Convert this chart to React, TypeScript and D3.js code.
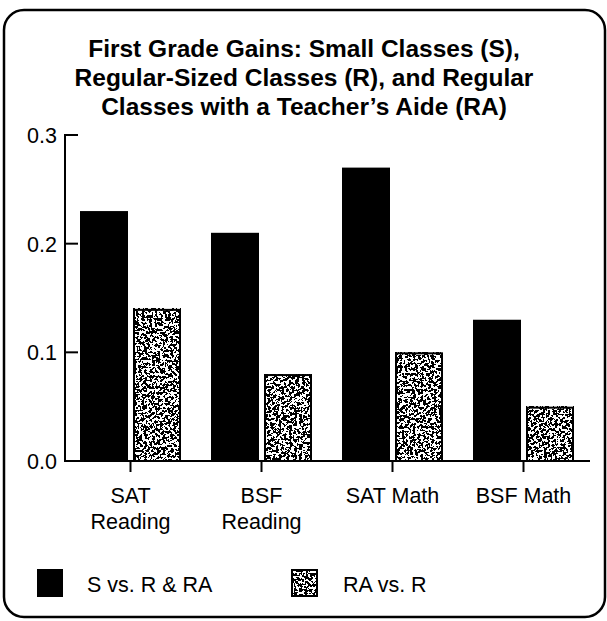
import React from "react";
import * as d3 from "d3";

const categories = [["SAT", "Reading"], ["BSF", "Reading"], ["SAT Math"], ["BSF Math"]];
const sVsRRA = [0.23, 0.21, 0.27, 0.13];
const raVsR = [0.14, 0.08, 0.1, 0.05];
const yTicks = [0, 0.1, 0.2, 0.3];
const titleLines = [
  "First Grade Gains: Small Classes (S),",
  "Regular-Sized Classes (R), and Regular",
  "Classes with a Teacher\u2019s Aide (RA)",
];
const legendLabels = ["S vs. R & RA", "RA vs. R"];

const W = 607;
const H = 621;
const FONT = "'Liberation Sans', Arial, Helvetica, sans-serif";
const LABEL = 21.5;

export default function App() {
  const x = d3.scaleBand<number>().domain(d3.range(categories.length)).range([65, 589]);
  const y = d3.scaleLinear().domain([0, 0.3]).range([461, 135]);
  const barW = 48;
  const gap = 5;

  return (
    <svg
      width={W}
      height={H}
      style={{ position: "absolute", left: 0, top: 0, display: "block", background: "#fff" }}
      fontFamily={FONT}
    >
      <defs>
        <filter id="stipple" x="0" y="0" width="1" height="1" colorInterpolationFilters="sRGB">
          <feTurbulence type="fractalNoise" baseFrequency="0.38" numOctaves="4" seed="11" result="t" />
          <feColorMatrix
            in="t"
            type="matrix"
            values="0 0 0 0 0  0 0 0 0 0  0 0 0 0 0  1.9 0 0 0 -0.45"
            result="a"
          />
          <feComponentTransfer in="a" result="b">
            <feFuncA type="discrete" tableValues="0 0 0 0 0 1 1 1 1 1" />
          </feComponentTransfer>
          <feFlood floodColor="#fff" result="w" />
          <feMerge>
            <feMergeNode in="w" />
            <feMergeNode in="b" />
          </feMerge>
        </filter>
      </defs>
      <rect x={4} y={10} width={601} height={607} rx={20} ry={20} fill="#fff" stroke="#000" strokeWidth={2.5} />

      {titleLines.map((t, i) => (
        <text key={i} x={304} y={57 + i * 29} textAnchor="middle" fontSize={24.5} fontWeight="bold">
          {t}
        </text>
      ))}

      {/* bars */}
      {categories.map((_, i) => {
        const cx = (x(i) as number) + x.bandwidth() / 2;
        return (
          <g key={i}>
            <rect x={cx - gap / 2 - barW} y={y(sVsRRA[i])} width={barW} height={y(0) - y(sVsRRA[i])} fill="#000" />
            <rect
              x={cx + gap / 2}
              y={y(raVsR[i])}
              width={barW}
              height={y(0) - y(raVsR[i])}
              fill="#fff"
              filter="url(#stipple)"
            />
            <rect
              x={cx + gap / 2 + 1}
              y={y(raVsR[i]) + 1}
              width={barW - 2}
              height={y(0) - y(raVsR[i]) - 1}
              fill="none"
              stroke="#000"
              strokeWidth={2}
            />
          </g>
        );
      })}

      {/* y axis */}
      <line x1={65} x2={65} y1={y(0.3) - 1} y2={y(0)} stroke="#000" strokeWidth={2} />
      {yTicks.map((t) => (
        <g key={t}>
          {t > 0 && <line x1={65} x2={78} y1={y(t)} y2={y(t)} stroke="#000" strokeWidth={2} />}
          <text x={57} y={y(t) + 8} textAnchor="end" fontSize={LABEL}>
            {d3.format(".1f")(t)}
          </text>
        </g>
      ))}

      {/* x axis */}
      <line x1={64} x2={590} y1={y(0)} y2={y(0)} stroke="#000" strokeWidth={2} />
      {categories.map((lines, i) => {
        const cx = (x(i) as number) + x.bandwidth() / 2;
        return (
          <g key={i}>
            <line x1={cx} x2={cx} y1={y(0)} y2={y(0) + 11} stroke="#000" strokeWidth={2} />
            {lines.map((l, j) => (
              <text key={j} x={cx} y={503 + j * 26} textAnchor="middle" fontSize={LABEL}>
                {l}
              </text>
            ))}
          </g>
        );
      })}

      {/* legend */}
      <rect x={37} y={569} width={26} height={28} fill="#000" />
      <text x={87} y={592} fontSize={LABEL}>{legendLabels[0]}</text>
      <rect x={291} y={569} width={27} height={28} fill="#fff" filter="url(#stipple)" />
      <rect x={292} y={570} width={25} height={26} fill="none" stroke="#000" strokeWidth={2} />
      <text x={343} y={592} fontSize={LABEL}>{legendLabels[1]}</text>
    </svg>
  );
}
